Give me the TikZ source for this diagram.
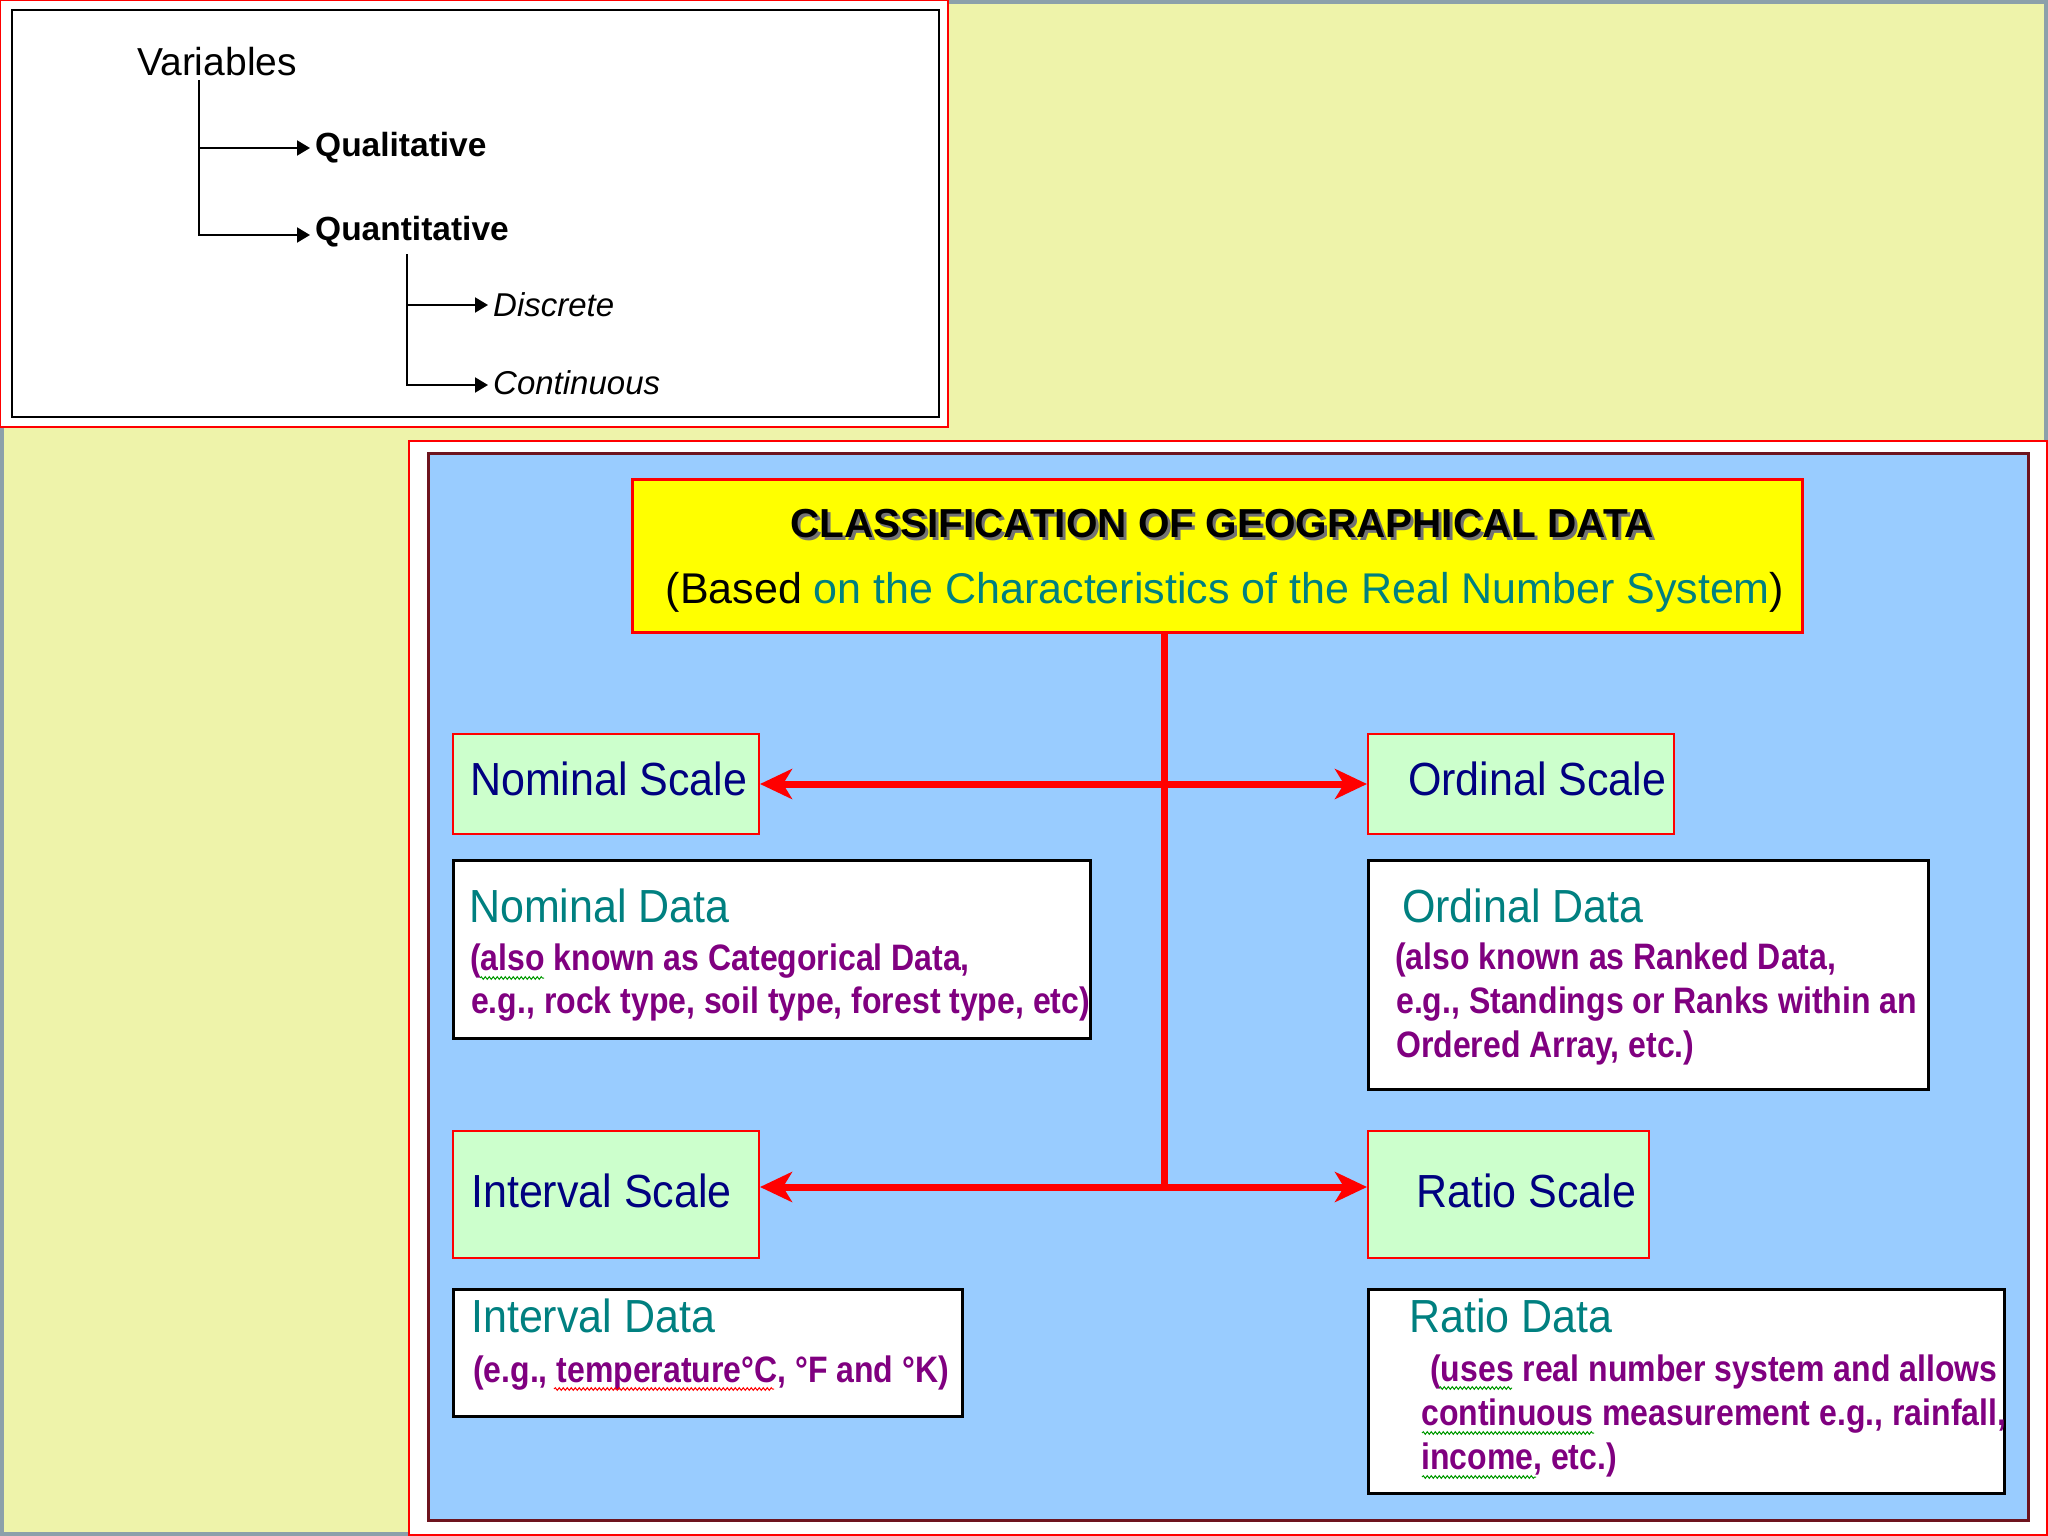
\documentclass[tikz,border=0pt]{standalone}
\usepackage{fontspec}
\usepackage{graphicx}
\setmainfont{Liberation Sans}
\usetikzlibrary{arrows.meta,decorations.pathmorphing}
\definecolor{bgyellow}{RGB}{238,243,170}
\definecolor{skyblue}{RGB}{153,204,255}
\definecolor{palegreen}{RGB}{204,255,204}
\definecolor{navytxt}{RGB}{0,0,128}
\definecolor{tealtxt}{RGB}{0,128,128}
\definecolor{purpletxt}{RGB}{128,0,128}
\definecolor{framegray}{RGB}{140,160,170}
\definecolor{maroonline}{RGB}{110,20,30}
\definecolor{titleyellow}{RGB}{255,255,0}
\newcommand{\tallA}[1]{\scalebox{1}[1.08]{#1}}
\newcommand{\tallB}[1]{\scalebox{1}[1.15]{#1}}
\tikzset{
  treetext/.style={inner sep=0pt, font=\fontsize{39}{42}\selectfont},
  treebold/.style={inner sep=0pt, font=\fontsize{33.5}{38}\selectfont\bfseries},
  treeital/.style={inner sep=0pt, font=\fontsize{33}{38}\selectfont\itshape},
  tline/.style={line width=2pt, black},
  tarrow/.style={line width=2pt, black, -{Triangle[length=13pt,width=15pt]}, shorten >=5pt},
  scalebox/.style={draw=red, line width=2pt, fill=palegreen, anchor=north west, inner sep=0pt},
  databox/.style={draw=black, line width=2.5pt, fill=white, anchor=north west, inner sep=0pt},
  titlebox/.style={draw=red, line width=2.5pt, fill=titleyellow, anchor=north west, inner sep=0pt},
  scaletext/.style={inner sep=0pt, anchor=base west, text=navytxt, font=\fontsize{43}{50}\selectfont},
  datatitle/.style={inner sep=0pt, anchor=base west, text=tealtxt, font=\fontsize{43}{50}\selectfont},
  databody/.style={inner sep=0pt, anchor=base west, text=purpletxt, font=\fontsize{32}{40}\selectfont\bfseries},
  redline/.style={red, line width=7pt},
  redarrow/.style={red, line width=7pt, -{Stealth[length=32pt,width=30pt,inset=9pt]}},
  spellgreen/.style={green!60!black, line width=1pt, decorate, decoration={snake, amplitude=1.3pt, segment length=4pt}},
  spellred/.style={red, line width=1pt, decorate, decoration={snake, amplitude=1.3pt, segment length=4pt}}
}
\begin{document}
\begin{tikzpicture}[x=1pt,y=-1pt]
\useasboundingbox (0,0) rectangle (2048,1536);
% slide background
\fill[bgyellow] (0,0) rectangle (2048,1536);
\draw[framegray, line width=4pt] (2,2) rectangle (2046,1534);
% top-left panel
\draw[red, line width=2pt, fill=white] (0,0) rectangle (948,427);
\draw[black, line width=2pt] (12,10) rectangle (939,417);
% lower panel
\draw[red, line width=2pt, fill=white] (409,441) rectangle (2047,1535);
\draw[maroonline, line width=3pt, fill=skyblue] (428,453) rectangle (2028,1520);

% ---- variables tree ----
\node[treetext, anchor=base west] (var) at (137,76) {Variables};
\node[treebold, anchor=west] (qual) at (315,148) {Qualitative};
\node[treebold, anchor=base west] (quan) at (315,240) {Quantitative};
\node[treeital, anchor=west] (disc) at (493,305) {Discrete};
\node[treeital, anchor=west] (cont) at (493,383) {Continuous};
\coordinate (v1top) at (199,80);
\coordinate (v2top) at (407,254);
\draw[tarrow] (v1top) |- ([yshift=5pt]quan.base west);
\draw[tarrow] (v1top |- qual.west) -- (qual.west);
\draw[tarrow] (v2top) |- ([yshift=-2pt]cont.west);
\draw[tarrow] (v2top |- disc.west) -- (disc.west);

% ---- title ----
\node[titlebox, minimum width=1170pt, minimum height=153pt] (title) at (631,478) {};
\node[inner sep=0pt, anchor=base, text=black!55, font=\fontsize{40.5}{46}\selectfont\bfseries] (titleshadow) at (1225,540) {CLASSIFICATION OF GEOGRAPHICAL DATA};
\node[inner sep=0pt, anchor=base, text=black, font=\fontsize{40.5}{46}\selectfont\bfseries] (titleline) at (1222,537) {CLASSIFICATION OF GEOGRAPHICAL DATA};
\node[inner sep=0pt, anchor=base, font=\fontsize{43}{50}\selectfont] (subline) at (1225,603) {(Based \textcolor{tealtxt}{on the Characteristics of the Real Number System})};

% ---- scale boxes ----
\node[scalebox, minimum width=306pt, minimum height=100pt] (ns) at (452,733) {};
\node[scalebox, minimum width=306pt, minimum height=100pt] (os) at (1367,733) {};
\node[scalebox, minimum width=306pt, minimum height=127pt] (is) at (452,1130) {};
\node[scalebox, minimum width=281pt, minimum height=127pt] (rs) at (1367,1130) {};
\node[scaletext] (nsl) at (470,795) {\tallA{Nominal Scale}};
\node[scaletext] (osl) at (1408,795) {\tallA{Ordinal Scale}};
\node[scaletext] (isl) at (471,1207) {\tallA{Interval Scale}};
\node[scaletext] (rsl) at (1416,1207) {\tallA{Ratio Scale}};

% ---- connectors ----
\coordinate (j1) at (1164,784);
\coordinate (j2) at (1164,1187);
\draw[redline] (title.south -| j1) -- (j2);
\draw[redarrow] (j1) -- (j1 -| ns.east);
\draw[redarrow] (j1) -- (j1 -| os.west);
\draw[redarrow] (j2) -- (j2 -| is.east);
\draw[redarrow] (j2) -- (j2 -| rs.west);

% ---- data boxes ----
\node[databox, minimum width=637pt, minimum height=178pt] (nd) at (452,859) {};
\node[databox, minimum width=560pt, minimum height=229pt] (od) at (1367,859) {};
\node[databox, minimum width=509pt, minimum height=127pt] (id) at (452,1288) {};
\node[databox, minimum width=636pt, minimum height=204pt] (rd) at (1367,1288) {};

\node[datatitle] (ndt) at (469,922) {\tallA{Nominal Data}};
\node[databody] (nd1) at (470,970) {\tallB{(also known as Categorical Data,}};
\node[databody] (nd2) at (471,1013) {\tallB{e.g., rock type, soil type, forest type, etc)}};

\node[datatitle] (odt) at (1402,922) {\tallA{Ordinal Data}};
\node[databody] (od1) at (1395,969) {\tallB{(also known as Ranked Data,}};
\node[databody] (od2) at (1396,1013) {\tallB{e.g., Standings or Ranks within an}};
\node[databody] (od3) at (1396,1057) {\tallB{Ordered Array, etc.)}};

\node[datatitle] (idt) at (471,1332) {\tallA{Interval Data}};
\node[databody] (id1) at (473,1382) {\tallB{(e.g., temperature°C, °F and °K)}};

\node[datatitle] (rdt) at (1409,1332) {\tallA{Ratio Data}};
\node[databody] (rd1) at (1430,1381) {\tallB{(uses real number system and allows}};
\node[databody] (rd2) at (1421,1425) {\tallB{continuous measurement e.g., rainfall,}};
\node[databody] (rd3) at (1421,1469) {\tallB{income, etc.)}};

% ---- spell-check squiggles ----
\draw[spellgreen] (480,978) -- (544,978);
\draw[spellred] (554,1389) -- (774,1389);
\draw[spellgreen] (1439,1388) -- (1512,1388);
\draw[spellgreen] (1422,1433) -- (1594,1433);
\draw[spellgreen] (1422,1477) -- (1536,1477);
\end{tikzpicture}
\end{document}
